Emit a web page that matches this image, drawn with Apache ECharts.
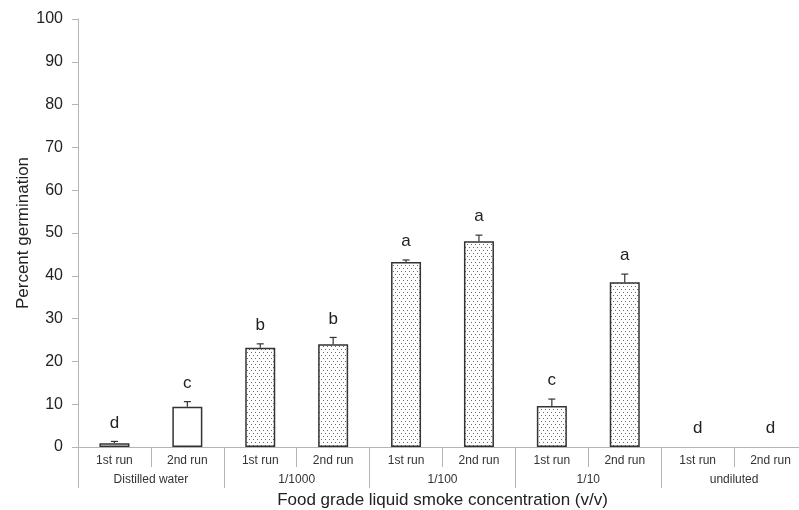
<!DOCTYPE html>
<html>
<head>
<meta charset="utf-8">
<script src="https://cdn.jsdelivr.net/npm/echarts@6/dist/echarts.min.js"></script>
<style>
  html, body { margin: 0; padding: 0; background: #fff; }
  #chart { width: 799px; height: 510px; }
</style>
</head>
<body>
<div id="chart"></div>
<script>
// Germination data: two runs per liquid smoke dilution
const runs = ['1st run', '2nd run', '1st run', '2nd run', '1st run', '2nd run', '1st run', '2nd run', '1st run', '2nd run'];
const groups = ['Distilled water', '1/1000', '1/100', '1/10', 'undiluted'];
const means = [0.9, 9.4, 23.2, 24.0, 43.2, 48.1, 9.6, 38.5, 0, 0];
const errors = [0.4, 1.2, 0.9, 1.6, 0.5, 1.4, 1.6, 1.9, 0, 0];
const letters = ['d', 'c', 'b', 'b', 'a', 'a', 'c', 'a', 'd', 'd'];
const yTicks = [0, 10, 20, 30, 40, 50, 60, 70, 80, 90, 100];

// dotted fill used for the smoke treatments
function dotPattern() {
  const c = document.createElement('canvas');
  c.width = 4; c.height = 6;
  const ctx = c.getContext('2d');
  ctx.fillStyle = '#ffffff';
  ctx.fillRect(0, 0, 4, 6);
  ctx.fillStyle = '#6a6a6a';
  ctx.fillRect(1, 1, 1, 1);
  ctx.fillRect(3, 4, 1, 1);
  return c;
}
const dots = { image: dotPattern(), repeat: 'repeat' };

const barData = means.map((v, i) => ({
  value: v,
  itemStyle: {
    color: i < 2 ? '#ffffff' : dots,
    borderWidth: v > 0 ? 1.5 : 0
  }
}));
const errData = means.map((v, i) => [i, v, errors[i], letters[i]]);

const font = 'Liberation Sans, Arial, sans-serif';
const axisGray = '#b4b4b4';

const chart = echarts.init(document.getElementById('chart'));
chart.setOption({
  animation: false,
  backgroundColor: '#ffffff',
  grid: { left: 78, top: 19, height: 428, width: 729, outerBoundsMode: 'none', containLabel: false },
  xAxis: [
    {
      type: 'category',
      data: runs,
      position: 'bottom',
      axisLine: { lineStyle: { color: axisGray, width: 1 } },
      axisTick: { show: true, length: 20, interval: 0, lineStyle: { color: axisGray } },
      axisLabel: { interval: 0, margin: 8, fontSize: 12, color: '#333', fontFamily: font },
      name: 'Food grade liquid smoke concentration (v/v)',
      nameLocation: 'middle',
      nameGap: 45,
      nameMoveOverlap: false,
      nameTextStyle: { fontSize: 17, color: '#222', fontFamily: font }
    },
    {
      type: 'category',
      data: groups,
      position: 'bottom',
      offset: 0,
      axisLine: { show: false },
      axisTick: { show: true, length: 41, interval: 0, lineStyle: { color: axisGray } },
      axisLabel: { interval: 0, margin: 27, fontSize: 12, color: '#333', fontFamily: font },
      splitLine: { show: false }
    }
  ],
  yAxis: {
    type: 'value',
    min: 0,
    max: 100,
    interval: 10,
    splitLine: { show: false },
    axisLine: { show: true, lineStyle: { color: axisGray } },
    axisTick: { show: true, length: 6, lineStyle: { color: axisGray } },
    axisLabel: {
      margin: 15, fontSize: 16, color: '#222', fontFamily: font,
      formatter: v => (yTicks.includes(v) ? String(v) : '')
    },
    name: 'Percent germination',
    nameLocation: 'middle',
    nameGap: 46,
    nameMoveOverlap: false,
    nameTextStyle: { fontSize: 17, color: '#222', fontFamily: font }
  },
  series: [
    {
      type: 'bar',
      xAxisIndex: 0,
      data: barData,
      barWidth: 30,
      itemStyle: { borderColor: '#333333', borderWidth: 1.5 },
      z: 2
    },
    {
      type: 'custom',
      xAxisIndex: 0,
      data: errData,
      z: 3,
      renderItem: function (params, api) {
        const x = api.value(0);
        const v = api.value(1);
        const e = api.value(2);
        const base = api.coord([x, v]);
        const top = api.coord([x, v + e]);
        const children = [];
        if (e > 0) {
          children.push({
            type: 'line',
            shape: { x1: base[0], y1: base[1], x2: top[0], y2: top[1] },
            style: { stroke: '#333', lineWidth: 1.2 }
          });
          children.push({
            type: 'line',
            shape: { x1: top[0] - 3.5, y1: top[1], x2: top[0] + 3.5, y2: top[1] },
            style: { stroke: '#333', lineWidth: 1.2 }
          });
        }
        children.push({
          type: 'text',
          x: top[0],
          y: top[1] - 10,
          style: {
            text: letters[params.dataIndex],
            fill: '#222',
            font: '17px ' + font,
            align: 'center',
            verticalAlign: 'bottom'
          }
        });
        return { type: 'group', children: children };
      }
    }
  ]
});
</script>
</body>
</html>
